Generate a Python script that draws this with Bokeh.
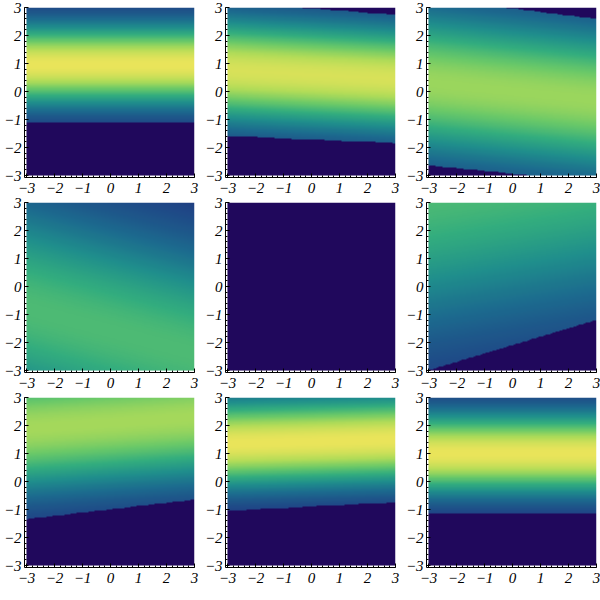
import numpy as np
from bokeh.plotting import figure
from bokeh.layouts import gridplot
from bokeh.models import LinearColorMapper, FixedTicker, Range1d
from bokeh.embed import file_html
from bokeh.resources import INLINE

# ---- values (one entry per panel, row by row) ----
center_left  = [0.95, 0.75, 0.30, -0.80, 0.0, 3.50, 1.90, 1.35, 1.00]   # ridge y at x=-3
center_right = [0.95, 0.45, -0.30, -2.40, 0.0, 4.50, 2.30, 1.50, 1.00]  # ridge y at x=3
spread       = [1.00, 1.30, 1.80, 2.70, 1.0, 3.50, 1.60, 1.10, 1.00]
peak         = [1.00, 0.95, 0.80, 0.62, 0.0, 0.62, 0.82, 1.00, 1.00]
low_cut_left  = [-1.10, -1.60, -2.65, -9.0, 9.0, -3.00, -1.35, -1.05, -1.15]
low_cut_right = [-1.10, -1.85, -3.25, -9.0, 9.0, -1.20, -0.65, -0.75, -1.15]
up_cut_left   = [9.0, 3.20, 3.35, 9.0, 9.0, 9.0, 9.0, 9.0, 9.0]
up_cut_right  = [9.0, 2.75, 2.60, 9.0, 9.0, 9.0, 9.0, 9.0, 9.0]
tick_values = [-3, -2, -1, 0, 1, 2, 3]
tick_labels = ["\u22123", "\u22122", "\u22121", "0", "1", "2", "3"]

# colour scale
stops = [(0.00, "#241a6a"), (0.10, "#1f4686"), (0.25, "#1c6a8e"), (0.40, "#1f8e8c"),
         (0.55, "#33ad7e"), (0.70, "#6bc968"), (0.85, "#b2dc58"), (1.00, "#e9e45a")]
def hex2rgb(h):
    return np.array([int(h[i:i + 2], 16) for i in (1, 3, 5)], float)
pos = np.array([s[0] for s in stops])
cols = np.array([hex2rgb(s[1]) for s in stops])
palette = []
for t in np.linspace(0, 1, 256):
    rgb = [np.interp(t, pos, cols[:, k]) for k in range(3)]
    palette.append("#%02x%02x%02x" % tuple(int(round(c)) for c in rgb))
NAVY = "#20085c"

N = 240
xs = np.linspace(-3, 3, N)
ys = np.linspace(-3, 3, N)
X, Y = np.meshgrid(xs, ys)

figs = []
for i in range(9):
    f = (X + 3) / 6.0
    c = center_left[i] + (center_right[i] - center_left[i]) * f
    z = peak[i] * np.exp(-((Y - c) ** 2) / (2 * spread[i] ** 2))
    lo = low_cut_left[i] + (low_cut_right[i] - low_cut_left[i]) * f
    hi = up_cut_left[i] + (up_cut_right[i] - up_cut_left[i]) * f
    z = np.where((Y < lo) | (Y > hi), np.nan, z)

    mapper = LinearColorMapper(palette=palette, low=0, high=1, nan_color=NAVY)
    p = figure(frame_width=170, frame_height=170, output_backend="svg",
               toolbar_location=None, x_range=Range1d(-3.07, 3.0),
               y_range=Range1d(-3.07, 3.0), min_border_left=2, min_border_right=7,
               min_border_top=7, min_border_bottom=3)
    p.image(image=[z], x=-3, y=-3, dw=6, dh=6, color_mapper=mapper)
    p.grid.visible = False
    p.outline_line_color = None
    minor = [round(v, 1) for v in np.arange(-3, 3.01, 0.2)]
    for ax in (p.xaxis[0], p.yaxis[0]):
        ax.ticker = FixedTicker(ticks=tick_values, minor_ticks=minor)
        ax.major_label_overrides = {v: l for v, l in zip(tick_values, tick_labels)}
        ax.major_label_text_font = "Liberation Serif"
        ax.major_label_text_font_style = "italic"
        ax.major_label_text_font_size = "15px"
        ax.major_label_text_color = "black"
        ax.axis_line_color = "black"
        ax.axis_line_width = 1
        ax.major_tick_in = 4
        ax.major_tick_out = 0
        ax.minor_tick_in = 2
        ax.minor_tick_out = 0
    p.xaxis[0].major_label_standoff = 5
    p.yaxis[0].major_label_standoff = 3
    figs.append(p)

grid = gridplot([figs[0:3], figs[3:6], figs[6:9]], toolbar_location=None)
open("out.html", "w").write(file_html(grid, INLINE))
